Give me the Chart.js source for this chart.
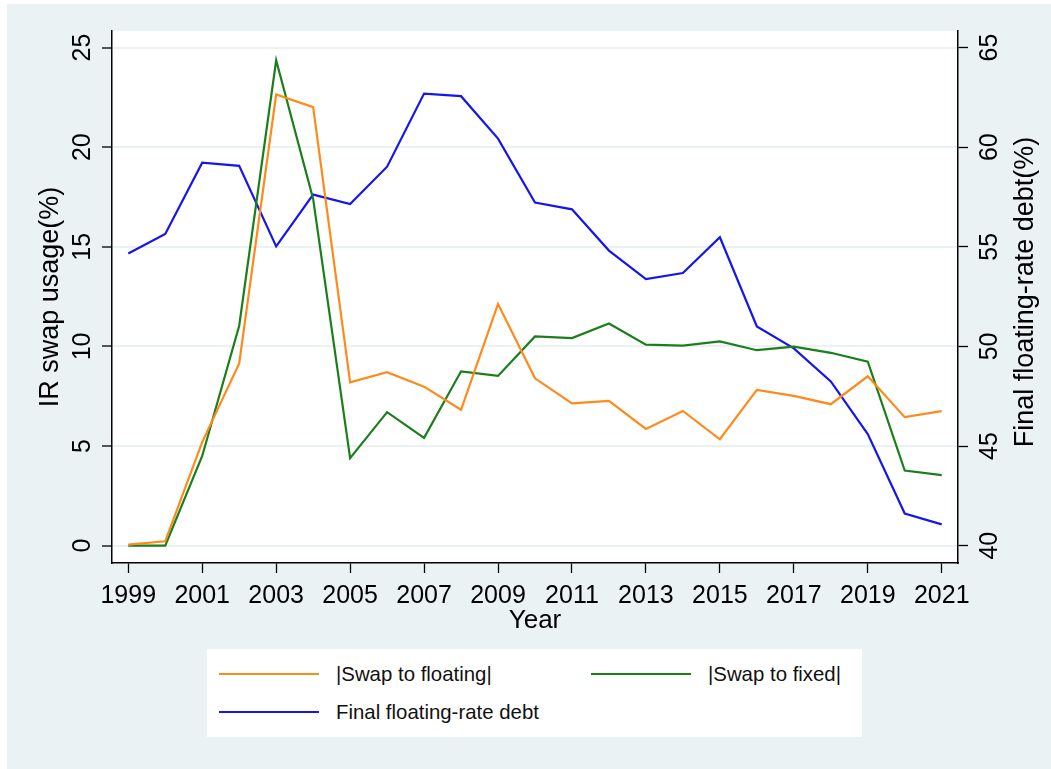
<!DOCTYPE html>
<html>
<head>
<meta charset="utf-8">
<title>IR swap usage and floating-rate debt</title>
<script src="https://cdn.jsdelivr.net/npm/chart.js@4.4.1/dist/chart.umd.min.js"></script>
<style>
  html, body { margin: 0; padding: 0; background: #fff; }
  body { width: 1051px; height: 769px; position: relative; overflow: hidden; font-family: "Liberation Sans", Arial, sans-serif; }
  #region { position: absolute; left: 7px; top: 4px; right: 0; bottom: 0; background: #eaf2f3; }
  #chart { position: absolute; left: 0; top: 0; }
  #legend { position: absolute; left: 207px; top: 649px; width: 655px; height: 88px; background: #fff; }
  .item { position: absolute; height: 24px; line-height: 24px; display: flex; align-items: center; font-size: 20.4px; color: #111; white-space: nowrap; }
  .swatch { width: 100px; height: 2px; margin-right: 17px; }
</style>
</head>
<body>
<div id="region"></div>
<canvas id="chart" width="1051" height="769"></canvas>
<div id="legend"></div>
<script>
const years = [1999, 2000, 2001, 2002, 2003, 2004, 2005, 2006, 2007, 2008, 2009, 2010,
               2011, 2012, 2013, 2014, 2015, 2016, 2017, 2018, 2019, 2020, 2021];
const swapToFloating = [0.05, 0.22, 5.2, 9.15, 22.64, 22.01, 8.2, 8.71, 7.98, 6.82, 12.13, 8.4,
                        7.14, 7.27, 5.86, 6.76, 5.34, 7.82, 7.52, 7.1, 8.5, 6.45, 6.75];
const swapToFixed = [0, 0, 4.5, 11.04, 24.36, 17.4, 4.39, 6.7, 5.41, 8.75, 8.52, 10.5,
                     10.42, 11.15, 10.09, 10.04, 10.25, 9.81, 9.99, 9.68, 9.23, 3.77, 3.54];
const finalFloatingDebt = [54.66, 55.64, 59.22, 59.06, 55.02, 57.62, 57.15, 59.02, 62.69, 62.56, 60.43, 57.22,
                           56.88, 54.81, 53.38, 53.68, 55.48, 51.0, 49.9, 48.24, 45.6, 41.61, 41.07];

const yearTicks = [1999, 2001, 2003, 2005, 2007, 2009, 2011, 2013, 2015, 2017, 2019, 2021];
const usageTicks = [0, 5, 10, 15, 20, 25];
const debtTicks = [40, 45, 50, 55, 60, 65];

const FONT = '"Liberation Sans", Arial, sans-serif';
const toPoints = vals => years.map((yr, i) => ({ x: yr, y: vals[i] }));

// white plot region on top of the tinted graph region
const plotFill = {
  id: 'plotFill',
  beforeDraw(chart) {
    const { ctx, chartArea: a } = chart;
    ctx.save();
    ctx.fillStyle = '#fff';
    ctx.fillRect(a.left, a.top, a.right - a.left, a.bottom - a.top);
    ctx.restore();
  }
};

// tick labels and axis titles, y labels turned to read upwards
const axisText = {
  id: 'axisText',
  afterDraw(chart) {
    const { ctx, chartArea: a, scales } = chart;
    const upright = (text, x, y) => {
      ctx.save();
      ctx.translate(x, y);
      ctx.rotate(-Math.PI / 2);
      ctx.fillText(text, 0, 0);
      ctx.restore();
    };
    ctx.save();
    ctx.fillStyle = '#000';
    ctx.textAlign = 'center';
    ctx.textBaseline = 'alphabetic';
    ctx.font = '25px ' + FONT;
    scales.x.ticks.forEach(t => ctx.fillText(String(t.value), scales.x.getPixelForValue(t.value), a.bottom + 40));
    scales.y.ticks.forEach(t => upright(String(t.value), a.left - 22, scales.y.getPixelForValue(t.value)));
    scales.y1.ticks.forEach(t => upright(String(t.value), a.right + 39, scales.y1.getPixelForValue(t.value)));
    ctx.font = '27px ' + FONT;
    upright('IR swap usage(%)', a.left - 54.5, (a.top + a.bottom) / 2);
    upright('Final floating-rate debt(%)', a.right + 75, (a.top + a.bottom) / 2 - 5);
    ctx.font = '26px ' + FONT;
    ctx.fillText('Year', (a.left + a.right) / 2, a.bottom + 65);
    ctx.restore();
  }
};

const fixTicks = list => scale => { scale.ticks = list.map(v => ({ value: v })); };

const chart = new Chart(document.getElementById('chart'), {
  type: 'line',
  data: {
    datasets: [
      { label: '|Swap to floating|', data: toPoints(swapToFloating), borderColor: '#ff8a1c', yAxisID: 'y' },
      { label: '|Swap to fixed|', data: toPoints(swapToFixed), borderColor: '#1a7f1a', yAxisID: 'y' },
      { label: 'Final floating-rate debt', data: toPoints(finalFloatingDebt), borderColor: '#1515ee', yAxisID: 'y1' }
    ]
  },
  options: {
    responsive: false,
    animation: false,
    devicePixelRatio: 1,
    layout: { padding: { top: 31, left: 0, right: 0, bottom: 0 } },
    elements: {
      line: { borderWidth: 2.2, tension: 0, fill: false },
      point: { radius: 0, hoverRadius: 0 }
    },
    plugins: { legend: { display: false }, tooltip: { enabled: false } },
    scales: {
      x: {
        type: 'linear',
        position: 'bottom',
        min: 1998.56,
        max: 2021.44,
        afterBuildTicks: fixTicks(yearTicks),
        afterFit: s => { s.height = 206; },
        ticks: { display: false },
        grid: { drawOnChartArea: false, drawTicks: true, tickLength: 10, tickColor: '#000', tickWidth: 1.3 },
        border: { color: '#000', width: 1.5 }
      },
      y: {
        type: 'linear',
        position: 'left',
        min: -0.87,
        max: 25.83,
        afterBuildTicks: fixTicks(usageTicks),
        afterFit: s => { s.width = 112; },
        ticks: { display: false },
        grid: { color: '#eaf2f3', lineWidth: 2, tickLength: 10, tickColor: '#000', tickWidth: 1.3 },
        border: { color: '#000', width: 1.5 }
      },
      y1: {
        type: 'linear',
        position: 'right',
        min: 39.13,
        max: 65.83,
        afterBuildTicks: fixTicks(debtTicks),
        afterFit: s => { s.width = 93; },
        ticks: { display: false },
        grid: { drawOnChartArea: false, tickLength: 10, tickColor: '#000', tickWidth: 1.3 },
        border: { color: '#000', width: 1.5 }
      }
    }
  },
  plugins: [plotFill, axisText]
});

// legend box: two columns, third entry wraps to a second row
const slots = [{ left: 12, top: 12.7 }, { left: 384, top: 12.7 }, { left: 12, top: 50.5 }];
const legend = document.getElementById('legend');
chart.data.datasets.forEach((ds, i) => {
  const item = document.createElement('div');
  item.className = 'item';
  item.style.left = slots[i].left + 'px';
  item.style.top = slots[i].top + 'px';
  item.innerHTML = `<span class="swatch" style="background:${ds.borderColor}"></span><span>${ds.label}</span>`;
  legend.appendChild(item);
});
</script>
</body>
</html>
